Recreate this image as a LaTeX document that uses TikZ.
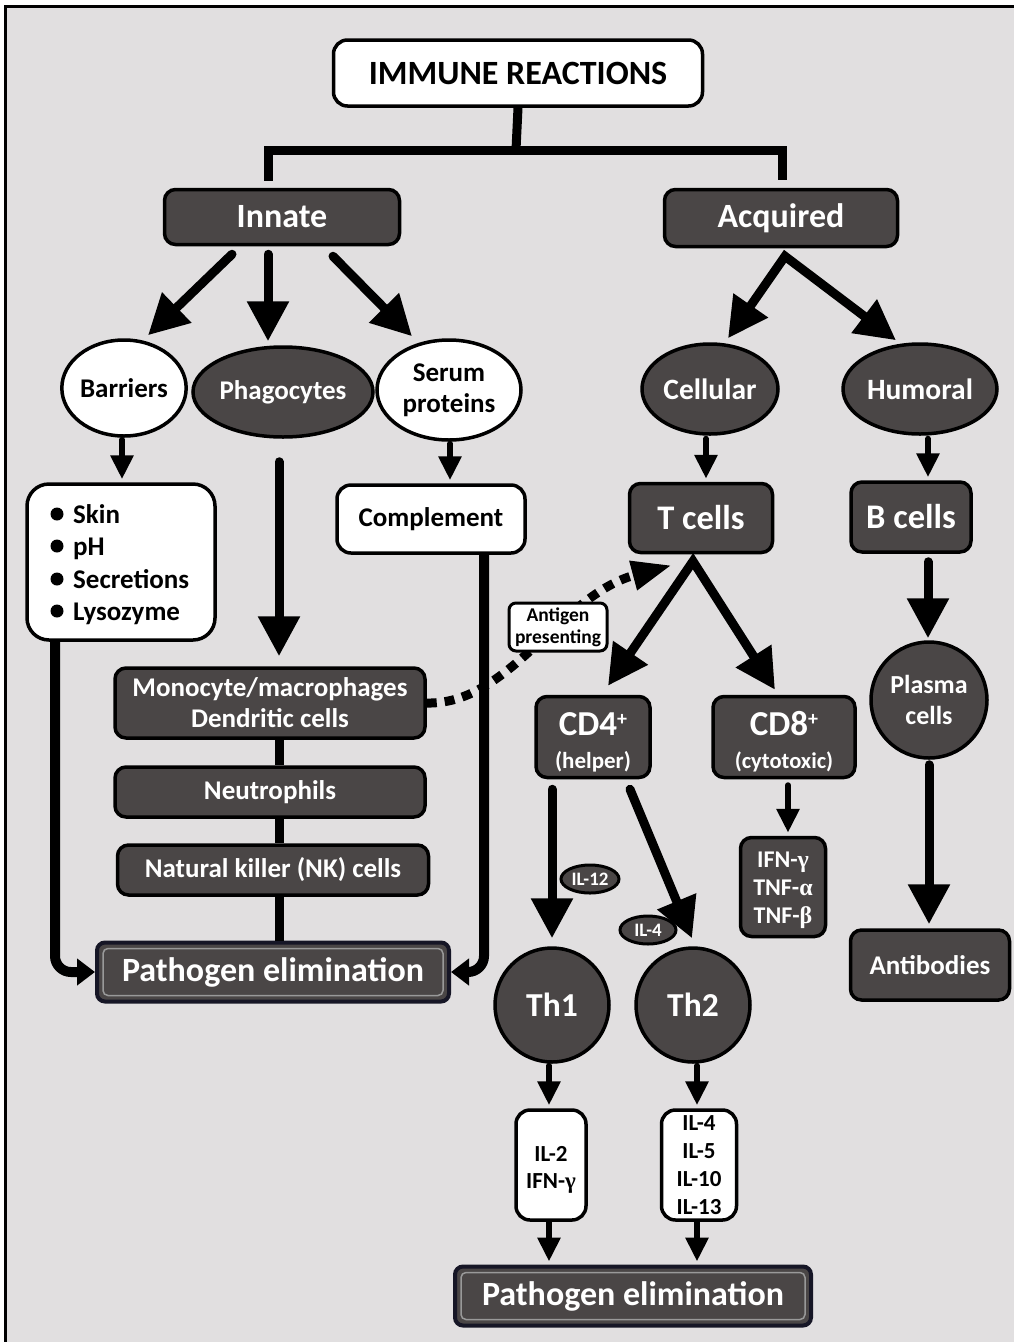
\documentclass[tikz,border=0pt]{standalone}
\usepackage{fontspec}
\setmainfont{Carlito}
\newfontfamily\grk{Liberation Serif}
\usetikzlibrary{arrows.meta,calc,shapes.geometric}
\definecolor{bg}{RGB}{225,223,224}
\definecolor{dk}{RGB}{74,70,70}
\definecolor{pebord}{RGB}{22,22,38}
\newcommand\fsz[2]{\fontsize{#1}{#2}\selectfont}
\begin{document}
\begin{tikzpicture}[x=1pt,y=-1pt,
  txt/.style 2 args={font=\bfseries\fontsize{#1}{#2}\selectfont},
  darkbox/.style={draw=black,line width=3.5pt,fill=dk,rounded corners=11pt,text=white,inner sep=0pt,align=center},
  whitebox/.style={draw=black,line width=3.5pt,fill=white,rounded corners=14pt,text=black,inner sep=0pt,align=center},
  darkoval/.style={ellipse,draw=black,line width=3.5pt,fill=dk,text=white,inner sep=0pt,align=center},
  whiteoval/.style={ellipse,draw=black,line width=3.5pt,fill=white,text=black,inner sep=0pt,align=center},
  darkcirc/.style={circle,draw=black,line width=3.5pt,fill=dk,text=white,inner sep=0pt,align=center},
  pebox/.style={draw=pebord,line width=4pt,fill=dk,rounded corners=8pt,text=white,inner sep=0pt,align=center},
  bigarr/.style={line width=9pt,line cap=round,-{Triangle[length=40pt,width=40pt]}},
  medarr/.style={line width=6pt,line cap=round,-{Triangle[length=24pt,width=22pt]}},
  vee/.style={line width=9pt,miter limit=20,{Triangle[length=40pt,width=40pt]}-{Triangle[length=40pt,width=40pt]}},
  conn/.style={line width=9pt},
  sidearr/.style={line width=10pt,rounded corners=16pt,-{Triangle[length=18pt,width=26pt]}},
  dotarr/.style={line width=9pt,dash pattern=on 10pt off 8pt,-{Triangle[length=40pt,width=28pt]}},
  listitem/.style={anchor=base west,txt={27}{30},inner sep=0pt}
]
\useasboundingbox (0,0) rectangle (1014,1342);
\fill[white] (0,0) rectangle (1014,1342);
\fill[bg] (5,6) rectangle (1014,1342);
\draw[line width=3pt] (5,1342) -- (5,6) -- (1014,6);

% nodes
\node[whitebox,txt={34}{38},minimum width=369pt,minimum height=66pt] (title) at (518,73) {IMMUNE REACTIONS};
\node[darkbox,txt={34}{38},minimum width=235pt,minimum height=55pt] (innate) at (282,217) {Innate};
\node[darkbox,txt={34}{38},minimum width=233pt,minimum height=57pt] (acquired) at (781,218) {Acquired};

\node[whiteoval,txt={27}{30},minimum width=124pt,minimum height=96pt] (barriers) at (124,388) {Barriers};
\node[darkoval,txt={27}{30},minimum width=180pt,minimum height=90pt] (phago) at (283,392) {Phagocytes};
\node[whiteoval,txt={27}{31},minimum width=144pt,minimum height=100pt] (serum) at (449,390) {Serum\\proteins};
\node[darkoval,txt={29.5}{32},minimum width=136pt,minimum height=90pt] (cellular) at (710,389) {Cellular};
\node[darkoval,txt={29.5}{32},minimum width=154pt,minimum height=90pt] (humoral) at (920,389) {Humoral};

\node[whitebox,rounded corners=22pt,minimum width=188pt,minimum height=156pt] (skin) at (121,562) {};
\fill (57,514) circle (6.5);
\fill (57,546) circle (6.5);
\fill (57,579) circle (6.5);
\fill (57,611) circle (6.5);
\node[listitem] (skinA) at (73,523) {Skin};
\node[listitem] (skinB) at (73,555) {pH};
\node[listitem] (skinC) at (73,588) {Secretions};
\node[listitem] (skinD) at (73,620) {Lysozyme};

\node[whitebox,txt={27}{30},minimum width=188pt,minimum height=68pt] (complement) at (431,519) {Complement};
\node[darkbox,txt={34.5}{38},minimum width=143pt,minimum height=69pt] (tcells) at (701,518) {T cells};
\node[darkbox,txt={34.5}{38},minimum width=120pt,minimum height=70pt] (bcells) at (911,517) {B cells};
\node[darkcirc,txt={26}{31},minimum size=116pt] (plasma) at (929,700) {Plasma\\cells};
\node[darkbox,txt={27}{30},minimum width=159pt,minimum height=70pt] (antibodies) at (930,965) {Antibodies};

\node[darkbox,txt={27}{31},minimum width=310pt,minimum height=70pt] (mono) at (270,703) {Monocyte/macrophages\\Dendritic cells};
\node[darkbox,txt={27}{30},minimum width=310pt,minimum height=50pt] (neutro) at (270,792) {Neutrophils};
\node[darkbox,txt={27}{30},minimum width=311pt,minimum height=50pt] (nk) at (273,870) {Natural killer (NK) cells};
\node[pebox,txt={34}{38},minimum width=352pt,minimum height=59pt] (pe1) at (273,972) {Pathogen elimination};
\draw[line width=1.5pt,draw=gray!80,rounded corners=5pt] ($(pe1.north west)+(8,8)$) rectangle ($(pe1.south east)+(-8,-8)$);

\node[darkbox,txt={35}{33},minimum width=114pt,minimum height=81pt] (cd4) at (593,737) {\rule{0pt}{34pt}CD4\raisebox{10pt}{\fsz{20}{20}+}\\{\fsz{23}{26}(helper)}};
\node[darkbox,txt={35}{33},minimum width=142pt,minimum height=81pt] (cd8) at (784,737) {\rule{0pt}{34pt}CD8\raisebox{10pt}{\fsz{20}{20}+}\\{\fsz{22.5}{26}(cytotoxic)}};
\node[darkbox,txt={24}{28},minimum width=85pt,minimum height=99pt] (ifn) at (783,887) {\rule{0pt}{22pt}IFN-{\grk γ}\\TNF-{\grk α}\\TNF-{\grk β}};

\node[darkcirc,txt={33.5}{36},minimum size=114pt] (th1) at (552,1005) {Th1};
\node[darkcirc,txt={33.5}{36},minimum size=114pt] (th2) at (693,1005) {Th2};
\node[darkoval,txt={19}{22},line width=3pt,minimum width=58pt,minimum height=28pt] (il12) at (590,879) {IL-12};
\node[darkoval,txt={19}{22},line width=3pt,minimum width=56pt,minimum height=28pt] (il4o) at (648,930) {IL-4};

\node[whitebox,txt={23}{27},minimum width=70pt,minimum height=110pt] (il2box) at (551,1165) {\rule{0pt}{25pt}IL-2\\IFN-{\grk γ}};
\node[whitebox,txt={23}{28},minimum width=75pt,minimum height=110pt] (il4box) at (699,1165) {IL-4\\IL-5\\IL-10\\IL-13};
\node[pebox,txt={34}{38},minimum width=356pt,minimum height=59pt] (pe2) at (633,1296) {Pathogen elimination};
\draw[line width=1.5pt,draw=gray!80,rounded corners=5pt] ($(pe2.north west)+(8,8)$) rectangle ($(pe2.south east)+(-8,-8)$);

% connectors
\coordinate (jn) at (516,150);
\draw[conn] (title.south) -- (jn);
\draw[conn] ($(innate.north)+(-14,-7)$) |- (jn) -| ($(acquired.north)+(1,-8)$);

\draw[bigarr] ($(innate.south)+(-50,8)$) -- ($(barriers.north)+(24,-3)$);
\draw[bigarr] ($(innate.south)+(-14,8)$) -- ($(phago.north)+(-15,-4)$);
\draw[bigarr] ($(innate.south)+(51,10)$) -- ($(serum.north)+(-37,-2)$);
\draw[vee] ($(cellular.north)+(18,-4)$) -- ($(acquired.south)+(4,8)$) -- ($(humoral.north)+(-24,-2)$);

\draw[medarr] ($(barriers.south)+(-2,2)$) -- ($(skin.north)+(1,-3)$);
\draw[medarr] ($(serum.south)+(1,2)$) -- ($(complement.north)+(19,-3)$);
\draw[medarr] ($(cellular.south)+(-4,3)$) -- ($(tcells.north)+(5,-3)$);
\draw[medarr] ($(humoral.south)+(8,3)$) -- ($(bcells.north)+(17,-3)$);

\draw[bigarr] ($(phago.south)+(-4,23)$) -- ($(mono.north)+(9,-10)$);
\draw[bigarr] ($(bcells.south)+(17,8)$) -- ($(plasma.north)+(-1,-2)$);
\draw[bigarr] ($(plasma.south)+(0,5)$) -- ($(antibodies.north)+(-1,-4)$);
\draw[vee] ($(cd4.north)+(15,-9)$) -- ($(tcells.south)+(-8,7)$) -- ($(cd8.north)+(-9,-5)$);

\draw[conn] ($(mono.south)+(9,0)$) -- ($(neutro.north)+(9,0)$);
\draw[conn] ($(neutro.south)+(9,0)$) -- ($(nk.north)+(6,0)$);
\draw[conn] ($(nk.south)+(6,0)$) -- ($(pe1.north)+(6,0)$);

\draw[sidearr] ($(skin.south)+(-66,0)$) |- (pe1.west);
\draw[sidearr] ($(complement.south)+(53,0)$) |- (pe1.east);

\draw[medarr] ($(cd8.south)+(4,6)$) -- ($(ifn.north)+(5,-3)$);
\draw[bigarr] ($(cd4.south)+(-41,10)$) -- ($(th1.north)+(0,-8)$);
\draw[bigarr] ($(cd4.south)+(37,10)$) -- ($(th2.north)+(-1,-8)$);

\draw[medarr] ($(th1.south)+(-3,2)$) -- ($(il2box.north)+(-2,-3)$);
\draw[medarr] ($(th2.south)+(4,2)$) -- ($(il4box.north)+(-2,-3)$);
\draw[medarr] ($(il2box.south)+(-2,1)$) -- ($(pe2.north)+(-84,-3)$);
\draw[medarr] ($(il4box.south)+(-2,1)$) -- ($(pe2.north)+(64,-3)$);

\draw[dotarr] (mono.east) .. controls (510,705) and (560,595) .. ($(tcells.south west)+(44,11)$);
\node[whitebox,txt={19.5}{22},line width=3pt,rounded corners=7pt,minimum width=98pt,minimum height=48pt] (antigen) at (558,627) {Antigen\\presenting};
\end{tikzpicture}
\end{document}
